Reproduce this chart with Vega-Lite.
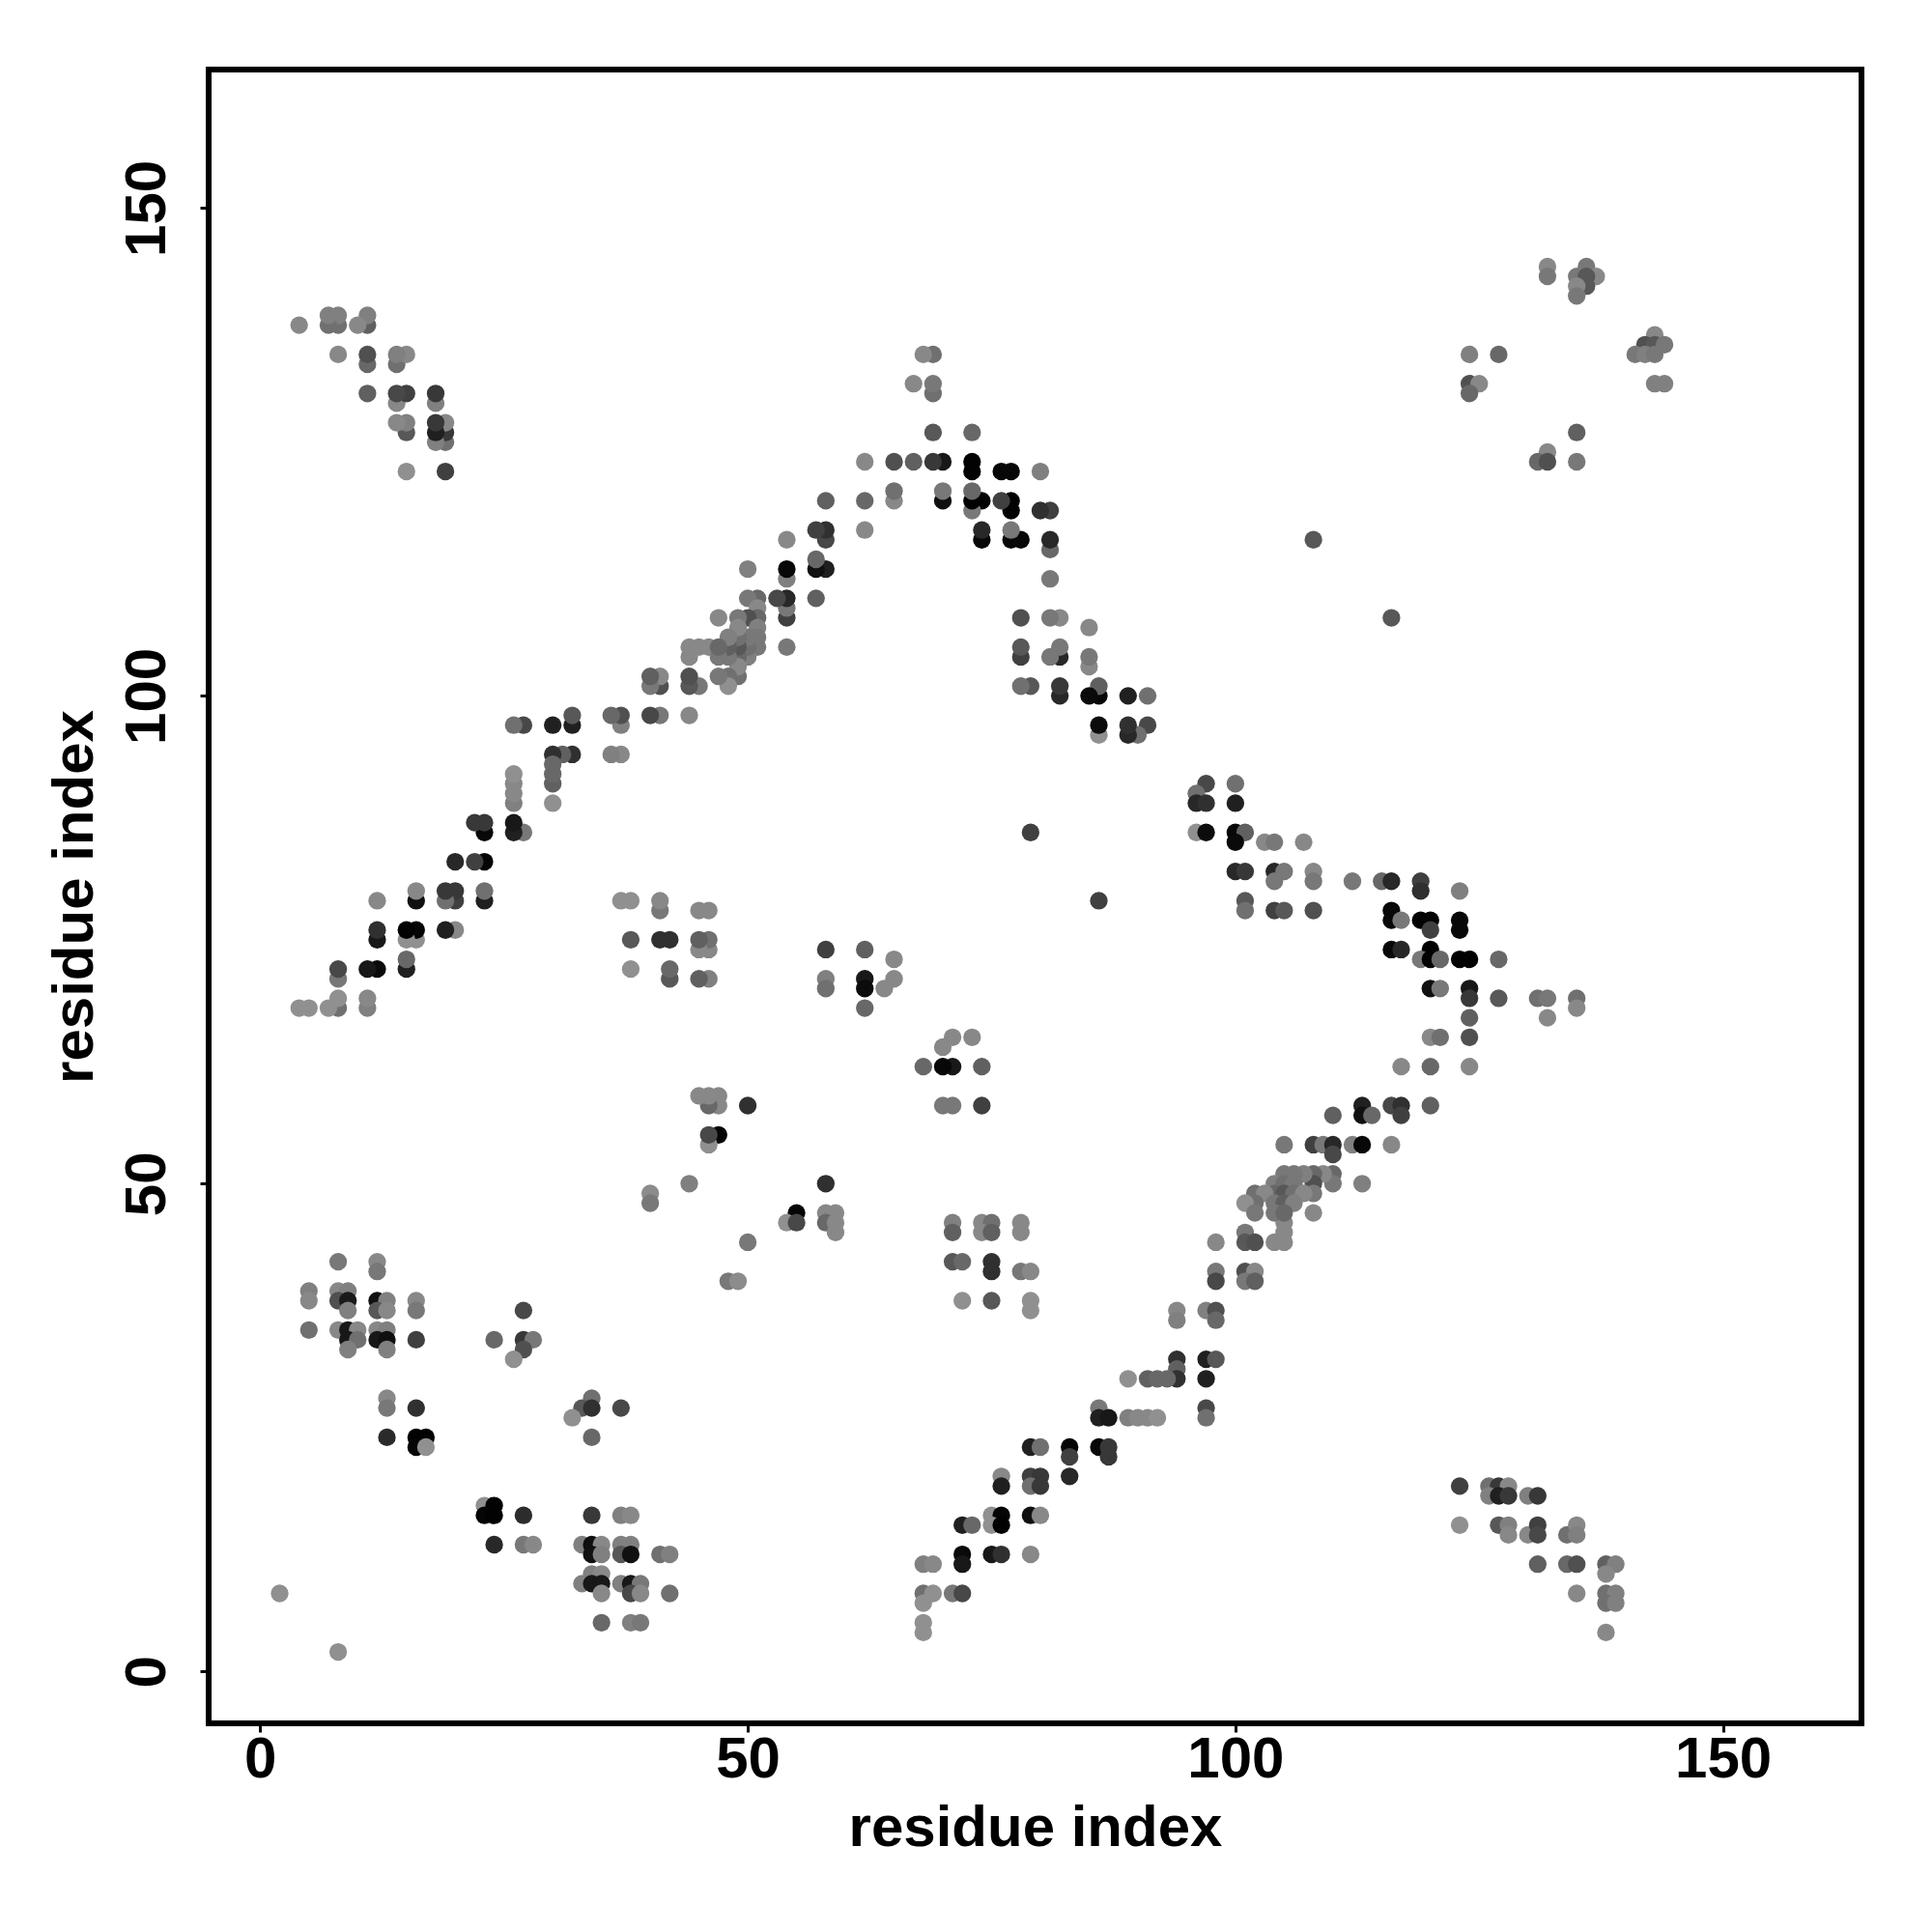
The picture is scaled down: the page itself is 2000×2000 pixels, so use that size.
{"$schema":"https://vega.github.io/schema/vega-lite/v6.json","width":1711,"height":1712,"autosize":{"type":"none"},"padding":{"left":216,"top":72,"right":73,"bottom":216},"background":"white","view":{"stroke":"black","strokeWidth":6},
"data":{"values":[
{"x":44,"y":50,"g":128},{"x":40,"y":49,"g":140},{"x":40,"y":48,"g":120},{"x":50,"y":44,"g":120},{"x":48,"y":40,"g":120},{"x":49,"y":40,"g":140},{"x":8,"y":42,"g":120},{"x":12,"y":42,"g":136},{"x":12,"y":41,"g":120},{"x":5,"y":39,"g":128},{"x":5,"y":38,"g":136},{"x":8,"y":39,"g":136},{"x":9,"y":39,"g":128},{"x":8,"y":38,"g":80},{"x":9,"y":38,"g":26},{"x":9,"y":37,"g":128},{"x":12,"y":38,"g":16},{"x":13,"y":38,"g":128},{"x":12,"y":37,"g":88},{"x":13,"y":37,"g":136},{"x":16,"y":38,"g":136},{"x":16,"y":37,"g":120},{"x":5,"y":35,"g":112},{"x":8,"y":35,"g":136},{"x":9,"y":35,"g":24},{"x":10,"y":35,"g":136},{"x":9,"y":34,"g":24},{"x":10,"y":34,"g":112},{"x":9,"y":33,"g":128},{"x":12,"y":35,"g":136},{"x":13,"y":35,"g":128},{"x":12,"y":34,"g":24},{"x":13,"y":34,"g":16},{"x":13,"y":33,"g":128},{"x":16,"y":34,"g":64},{"x":24,"y":34,"g":104},{"x":27,"y":37,"g":72},{"x":27,"y":34,"g":56},{"x":28,"y":34,"g":120},{"x":27,"y":33,"g":80},{"x":26,"y":32,"g":144},{"x":13,"y":28,"g":136},{"x":13,"y":27,"g":120},{"x":16,"y":27,"g":48},{"x":13,"y":24,"g":42},{"x":16,"y":24,"g":2},{"x":17,"y":24,"g":2},{"x":16,"y":23,"g":5},{"x":17,"y":23,"g":144},{"x":34,"y":28,"g":112},{"x":33,"y":27,"g":88},{"x":34,"y":27,"g":48},{"x":37,"y":27,"g":72},{"x":32,"y":26,"g":144},{"x":34,"y":24,"g":104},{"x":23,"y":17,"g":144},{"x":24,"y":17,"g":2},{"x":23,"y":16,"g":5},{"x":24,"y":16,"g":2},{"x":27,"y":16,"g":44},{"x":24,"y":13,"g":40},{"x":27,"y":13,"g":120},{"x":28,"y":13,"g":136},{"x":34,"y":16,"g":56},{"x":37,"y":16,"g":128},{"x":38,"y":16,"g":136},{"x":33,"y":13,"g":128},{"x":34,"y":13,"g":16},{"x":35,"y":13,"g":136},{"x":34,"y":12,"g":18},{"x":35,"y":12,"g":128},{"x":37,"y":13,"g":128},{"x":38,"y":13,"g":128},{"x":37,"y":12,"g":88},{"x":38,"y":12,"g":16},{"x":41,"y":12,"g":112},{"x":42,"y":12,"g":128},{"x":34,"y":10,"g":128},{"x":35,"y":10,"g":136},{"x":33,"y":9,"g":128},{"x":34,"y":9,"g":24},{"x":35,"y":9,"g":24},{"x":35,"y":8,"g":136},{"x":37,"y":9,"g":128},{"x":38,"y":9,"g":24},{"x":39,"y":9,"g":120},{"x":38,"y":8,"g":72},{"x":39,"y":8,"g":136},{"x":42,"y":8,"g":112},{"x":35,"y":5,"g":104},{"x":38,"y":5,"g":128},{"x":39,"y":5,"g":120},{"x":2,"y":8,"g":144},{"x":8,"y":2,"g":144},
{"x":132,"y":144,"g":136},{"x":132,"y":143,"g":120},{"x":136,"y":144,"g":120},{"x":135,"y":143,"g":120},{"x":137,"y":143,"g":136},{"x":136,"y":143,"g":88},{"x":136,"y":142,"g":88},{"x":135,"y":142,"g":136},{"x":135,"y":141,"g":120},{"x":124,"y":135,"g":128},{"x":127,"y":135,"g":104},{"x":124,"y":132,"g":80},{"x":125,"y":132,"g":136},{"x":124,"y":131,"g":104},{"x":135,"y":127,"g":96},{"x":132,"y":125,"g":136},{"x":131,"y":124,"g":104},{"x":132,"y":124,"g":80},{"x":135,"y":124,"g":120},{"x":143,"y":137,"g":136},{"x":142,"y":136,"g":80},{"x":143,"y":136,"g":88},{"x":144,"y":136,"g":120},{"x":141,"y":135,"g":120},{"x":142,"y":135,"g":128},{"x":143,"y":135,"g":120},{"x":143,"y":132,"g":128},{"x":144,"y":132,"g":128},
{"x":108,"y":116,"g":88},{"x":116,"y":108,"g":88},{"x":79,"y":86,"g":64},{"x":86,"y":79,"g":64},
{"x":74,"y":58,"g":64},{"x":58,"y":74,"g":64},{"x":74,"y":62,"g":96},{"x":62,"y":74,"g":96},{"x":73,"y":65,"g":136},{"x":65,"y":73,"g":136},{"x":71,"y":58,"g":120},{"x":58,"y":71,"g":128},{"x":70,"y":58,"g":120},{"x":58,"y":70,"g":112},{"x":71,"y":62,"g":24},{"x":62,"y":71,"g":24},{"x":70,"y":62,"g":8},{"x":62,"y":70,"g":12},{"x":71,"y":65,"g":136},{"x":65,"y":71,"g":136},{"x":70,"y":64,"g":136},{"x":64,"y":70,"g":136},{"x":68,"y":62,"g":104},{"x":62,"y":68,"g":104},
{"x":58,"y":50,"g":48},{"x":50,"y":58,"g":48},{"x":55,"y":47,"g":5},{"x":47,"y":55,"g":5},{"x":54,"y":46,"g":144},{"x":46,"y":54,"g":144},{"x":55,"y":46,"g":72},{"x":46,"y":55,"g":72},{"x":58,"y":47,"g":136},{"x":47,"y":58,"g":136},{"x":59,"y":47,"g":136},{"x":47,"y":59,"g":136},{"x":58,"y":46,"g":104},{"x":46,"y":58,"g":104},{"x":59,"y":46,"g":136},{"x":46,"y":59,"g":136},{"x":59,"y":45,"g":136},{"x":45,"y":59,"g":136},{"x":71,"y":46,"g":128},{"x":46,"y":71,"g":128},{"x":71,"y":45,"g":96},{"x":45,"y":71,"g":96},{"x":74,"y":46,"g":136},{"x":46,"y":74,"g":136},{"x":75,"y":46,"g":112},{"x":46,"y":75,"g":112},{"x":74,"y":45,"g":136},{"x":45,"y":74,"g":136},{"x":75,"y":45,"g":96},{"x":45,"y":75,"g":96},{"x":78,"y":46,"g":136},{"x":46,"y":78,"g":136},{"x":78,"y":45,"g":136},{"x":45,"y":78,"g":136},{"x":71,"y":42,"g":88},{"x":42,"y":71,"g":88},{"x":72,"y":42,"g":104},{"x":42,"y":72,"g":104},{"x":75,"y":42,"g":48},{"x":42,"y":75,"g":48},{"x":75,"y":41,"g":48},{"x":41,"y":75,"g":48},{"x":78,"y":41,"g":120},{"x":41,"y":78,"g":120},{"x":79,"y":41,"g":136},{"x":41,"y":79,"g":136},{"x":72,"y":38,"g":144},{"x":38,"y":72,"g":144},{"x":75,"y":38,"g":88},{"x":38,"y":75,"g":88},{"x":79,"y":38,"g":144},{"x":38,"y":79,"g":144},{"x":79,"y":37,"g":144},{"x":37,"y":79,"g":144},{"x":94,"y":37,"g":136},{"x":37,"y":94,"g":136},{"x":94,"y":36,"g":128},{"x":36,"y":94,"g":128},{"x":97,"y":37,"g":128},{"x":37,"y":97,"g":128},{"x":98,"y":37,"g":80},{"x":37,"y":98,"g":80},{"x":98,"y":36,"g":104},{"x":36,"y":98,"g":104},{"x":98,"y":41,"g":120},{"x":41,"y":98,"g":120},{"x":98,"y":40,"g":72},{"x":40,"y":98,"g":72},{"x":101,"y":41,"g":80},{"x":41,"y":101,"g":80},{"x":102,"y":41,"g":136},{"x":41,"y":102,"g":136},{"x":101,"y":40,"g":120},{"x":40,"y":101,"g":120},{"x":102,"y":40,"g":96},{"x":40,"y":102,"g":96},{"x":98,"y":44,"g":136},{"x":44,"y":98,"g":136},{"x":101,"y":45,"g":120},{"x":45,"y":101,"g":120},{"x":101,"y":44,"g":88},{"x":44,"y":101,"g":88},{"x":102,"y":44,"g":80},{"x":44,"y":102,"g":80},{"x":104,"y":44,"g":136},{"x":44,"y":104,"g":136},{"x":105,"y":44,"g":136},{"x":44,"y":105,"g":136},{"x":105,"y":45,"g":136},{"x":45,"y":105,"g":136},{"x":105,"y":46,"g":136},{"x":46,"y":105,"g":136},
{"x":94,"y":32,"g":48},{"x":32,"y":94,"g":48},{"x":94,"y":31,"g":96},{"x":31,"y":94,"g":96},{"x":94,"y":30,"g":48},{"x":30,"y":94,"g":48},{"x":89,"y":30,"g":144},{"x":30,"y":89,"g":144},{"x":91,"y":30,"g":96},{"x":30,"y":91,"g":96},{"x":92,"y":30,"g":104},{"x":30,"y":92,"g":104},{"x":93,"y":30,"g":104},{"x":30,"y":93,"g":104},{"x":97,"y":32,"g":32},{"x":32,"y":97,"g":32},{"x":98,"y":32,"g":88},{"x":32,"y":98,"g":88},{"x":97,"y":30,"g":32},{"x":30,"y":97,"g":32},{"x":97,"y":27,"g":72},{"x":27,"y":97,"g":72},{"x":97,"y":26,"g":112},{"x":26,"y":97,"g":112},{"x":86,"y":27,"g":120},{"x":27,"y":86,"g":120},{"x":86,"y":26,"g":32},{"x":26,"y":86,"g":32},{"x":87,"y":26,"g":24},{"x":26,"y":87,"g":24},{"x":89,"y":26,"g":128},{"x":26,"y":89,"g":128},{"x":90,"y":26,"g":136},{"x":26,"y":90,"g":136},{"x":91,"y":26,"g":136},{"x":26,"y":91,"g":136},{"x":92,"y":26,"g":144},{"x":26,"y":92,"g":144},{"x":79,"y":23,"g":32},{"x":23,"y":79,"g":32},{"x":80,"y":23,"g":112},{"x":23,"y":80,"g":112},{"x":83,"y":23,"g":5},{"x":23,"y":83,"g":5},{"x":83,"y":22,"g":64},{"x":22,"y":83,"g":64},{"x":86,"y":23,"g":8},{"x":23,"y":86,"g":8},{"x":87,"y":23,"g":56},{"x":23,"y":87,"g":56},{"x":87,"y":22,"g":56},{"x":22,"y":87,"g":56},{"x":76,"y":20,"g":136},{"x":20,"y":76,"g":136},{"x":76,"y":19,"g":32},{"x":19,"y":76,"g":32},{"x":79,"y":20,"g":64},{"x":20,"y":79,"g":64},{"x":80,"y":20,"g":56},{"x":20,"y":80,"g":56},{"x":79,"y":19,"g":112},{"x":19,"y":79,"g":112},{"x":80,"y":19,"g":56},{"x":19,"y":80,"g":56},{"x":83,"y":20,"g":40},{"x":20,"y":83,"g":40},{"x":75,"y":16,"g":144},{"x":16,"y":75,"g":144},{"x":76,"y":16,"g":5},{"x":16,"y":76,"g":5},{"x":75,"y":15,"g":144},{"x":15,"y":75,"g":144},{"x":76,"y":15,"g":2},{"x":15,"y":76,"g":2},{"x":79,"y":16,"g":16},{"x":16,"y":79,"g":16},{"x":80,"y":16,"g":136},{"x":16,"y":80,"g":136},{"x":72,"y":15,"g":32},{"x":15,"y":72,"g":32},{"x":73,"y":15,"g":104},{"x":15,"y":73,"g":104},{"x":72,"y":12,"g":10},{"x":12,"y":72,"g":10},{"x":72,"y":11,"g":24},{"x":11,"y":72,"g":24},{"x":75,"y":12,"g":24},{"x":12,"y":75,"g":24},{"x":76,"y":12,"g":48},{"x":12,"y":76,"g":48},{"x":79,"y":12,"g":136},{"x":12,"y":79,"g":136},{"x":68,"y":11,"g":128},{"x":11,"y":68,"g":128},{"x":69,"y":11,"g":136},{"x":11,"y":69,"g":136},{"x":68,"y":8,"g":112},{"x":8,"y":68,"g":112},{"x":69,"y":8,"g":144},{"x":8,"y":69,"g":144},{"x":68,"y":7,"g":144},{"x":7,"y":68,"g":144},{"x":71,"y":8,"g":120},{"x":8,"y":71,"g":120},{"x":72,"y":8,"g":72},{"x":8,"y":72,"g":72},{"x":68,"y":5,"g":144},{"x":5,"y":68,"g":144},{"x":68,"y":4,"g":144},{"x":4,"y":68,"g":144},
{"x":123,"y":19,"g":64},{"x":19,"y":123,"g":64},{"x":123,"y":15,"g":144},{"x":15,"y":123,"g":144},{"x":126,"y":19,"g":112},{"x":19,"y":126,"g":112},{"x":127,"y":19,"g":56},{"x":19,"y":127,"g":56},{"x":128,"y":19,"g":136},{"x":19,"y":128,"g":136},{"x":126,"y":18,"g":128},{"x":18,"y":126,"g":128},{"x":127,"y":18,"g":32},{"x":18,"y":127,"g":32},{"x":128,"y":18,"g":56},{"x":18,"y":128,"g":56},{"x":130,"y":18,"g":128},{"x":18,"y":130,"g":128},{"x":131,"y":18,"g":56},{"x":18,"y":131,"g":56},{"x":127,"y":15,"g":88},{"x":15,"y":127,"g":88},{"x":128,"y":15,"g":128},{"x":15,"y":128,"g":128},{"x":128,"y":14,"g":136},{"x":14,"y":128,"g":136},{"x":130,"y":14,"g":136},{"x":14,"y":130,"g":136},{"x":131,"y":15,"g":64},{"x":15,"y":131,"g":64},{"x":131,"y":14,"g":72},{"x":14,"y":131,"g":72},{"x":134,"y":14,"g":112},{"x":14,"y":134,"g":112},{"x":135,"y":15,"g":136},{"x":15,"y":135,"g":136},{"x":135,"y":14,"g":128},{"x":14,"y":135,"g":128},{"x":131,"y":11,"g":96},{"x":11,"y":131,"g":96},{"x":134,"y":11,"g":104},{"x":11,"y":134,"g":104},{"x":135,"y":11,"g":80},{"x":11,"y":135,"g":80},{"x":138,"y":11,"g":96},{"x":11,"y":138,"g":96},{"x":139,"y":11,"g":128},{"x":11,"y":139,"g":128},{"x":138,"y":10,"g":136},{"x":10,"y":138,"g":136},{"x":135,"y":8,"g":136},{"x":8,"y":135,"g":136},{"x":138,"y":8,"g":112},{"x":8,"y":138,"g":112},{"x":139,"y":8,"g":128},{"x":8,"y":139,"g":128},{"x":138,"y":7,"g":112},{"x":7,"y":138,"g":112},{"x":139,"y":7,"g":128},{"x":7,"y":139,"g":128},{"x":138,"y":4,"g":136},{"x":4,"y":138,"g":136},
{"x":113,"y":50,"g":128},{"x":50,"y":113,"g":128},{"x":110,"y":51,"g":104},{"x":51,"y":110,"g":104},{"x":110,"y":50,"g":120},{"x":50,"y":110,"g":120},{"x":109,"y":51,"g":136},{"x":51,"y":109,"g":136},{"x":108,"y":51,"g":104},{"x":51,"y":108,"g":104},{"x":108,"y":50,"g":80},{"x":50,"y":108,"g":80},{"x":108,"y":49,"g":120},{"x":49,"y":108,"g":120},{"x":108,"y":47,"g":136},{"x":47,"y":108,"g":136},{"x":107,"y":51,"g":128},{"x":51,"y":107,"g":128},{"x":106,"y":51,"g":120},{"x":51,"y":106,"g":120},{"x":105,"y":51,"g":120},{"x":51,"y":105,"g":120},{"x":104,"y":50,"g":128},{"x":50,"y":104,"g":128},{"x":105,"y":50,"g":112},{"x":50,"y":105,"g":112},{"x":106,"y":50,"g":120},{"x":50,"y":106,"g":120},{"x":104,"y":49,"g":104},{"x":49,"y":104,"g":104},{"x":105,"y":49,"g":88},{"x":49,"y":105,"g":88},{"x":106,"y":49,"g":112},{"x":49,"y":106,"g":112},{"x":107,"y":49,"g":136},{"x":49,"y":107,"g":136},{"x":102,"y":49,"g":112},{"x":49,"y":102,"g":112},{"x":103,"y":49,"g":136},{"x":49,"y":103,"g":136},{"x":104,"y":48,"g":120},{"x":48,"y":104,"g":120},{"x":105,"y":48,"g":96},{"x":48,"y":105,"g":96},{"x":106,"y":48,"g":128},{"x":48,"y":106,"g":128},{"x":102,"y":48,"g":112},{"x":48,"y":102,"g":112},{"x":101,"y":48,"g":144},{"x":48,"y":101,"g":144},{"x":102,"y":47,"g":120},{"x":47,"y":102,"g":120},{"x":104,"y":47,"g":120},{"x":47,"y":104,"g":120},{"x":105,"y":47,"g":104},{"x":47,"y":105,"g":104},
{"x":97,"y":91,"g":72},{"x":91,"y":97,"g":72},{"x":100,"y":91,"g":112},{"x":91,"y":100,"g":112},{"x":96,"y":90,"g":112},{"x":90,"y":96,"g":112},{"x":96,"y":89,"g":40},{"x":89,"y":96,"g":40},{"x":97,"y":89,"g":48},{"x":89,"y":97,"g":48},{"x":100,"y":89,"g":32},{"x":89,"y":100,"g":32},{"x":96,"y":86,"g":144},{"x":86,"y":96,"g":144},{"x":97,"y":86,"g":12},{"x":86,"y":97,"g":12},{"x":100,"y":86,"g":8},{"x":86,"y":100,"g":8},{"x":101,"y":86,"g":96},{"x":86,"y":101,"g":96},{"x":100,"y":85,"g":10},{"x":85,"y":100,"g":10},{"x":103,"y":85,"g":136},{"x":85,"y":103,"g":136},{"x":104,"y":85,"g":120},{"x":85,"y":104,"g":120},{"x":107,"y":85,"g":136},{"x":85,"y":107,"g":136},{"x":100,"y":82,"g":40},{"x":82,"y":100,"g":40},{"x":101,"y":82,"g":56},{"x":82,"y":101,"g":56},{"x":104,"y":82,"g":40},{"x":82,"y":104,"g":40},{"x":105,"y":82,"g":120},{"x":82,"y":105,"g":120},{"x":108,"y":82,"g":136},{"x":82,"y":108,"g":136},{"x":104,"y":81,"g":120},{"x":81,"y":104,"g":120},{"x":108,"y":81,"g":120},{"x":81,"y":108,"g":120},{"x":112,"y":81,"g":120},{"x":81,"y":112,"g":120},{"x":115,"y":81,"g":104},{"x":81,"y":115,"g":104},{"x":116,"y":81,"g":40},{"x":81,"y":116,"g":40},{"x":119,"y":81,"g":64},{"x":81,"y":119,"g":64},{"x":119,"y":80,"g":48},{"x":80,"y":119,"g":48},{"x":123,"y":80,"g":128},{"x":80,"y":123,"g":128},{"x":101,"y":79,"g":88},{"x":79,"y":101,"g":88},{"x":101,"y":78,"g":112},{"x":78,"y":101,"g":112},{"x":104,"y":78,"g":64},{"x":78,"y":104,"g":64},{"x":105,"y":78,"g":88},{"x":78,"y":105,"g":88},{"x":108,"y":78,"g":80},{"x":78,"y":108,"g":80},{"x":116,"y":78,"g":8},{"x":78,"y":116,"g":8},{"x":116,"y":77,"g":8},{"x":77,"y":116,"g":8},{"x":117,"y":77,"g":120},{"x":77,"y":117,"g":120},{"x":119,"y":77,"g":2},{"x":77,"y":119,"g":2},{"x":120,"y":77,"g":2},{"x":77,"y":120,"g":2},{"x":120,"y":76,"g":64},{"x":76,"y":120,"g":64},{"x":123,"y":77,"g":8},{"x":77,"y":123,"g":8},{"x":123,"y":76,"g":8},{"x":76,"y":123,"g":8},{"x":116,"y":74,"g":8},{"x":74,"y":116,"g":8},{"x":117,"y":74,"g":40},{"x":74,"y":117,"g":40},{"x":120,"y":74,"g":2},{"x":74,"y":120,"g":2},{"x":119,"y":73,"g":120},{"x":73,"y":119,"g":120},{"x":120,"y":73,"g":2},{"x":73,"y":120,"g":2},{"x":121,"y":73,"g":104},{"x":73,"y":121,"g":104},{"x":123,"y":73,"g":2},{"x":73,"y":123,"g":2},{"x":124,"y":73,"g":2},{"x":73,"y":124,"g":2},{"x":127,"y":73,"g":104},{"x":73,"y":127,"g":104},{"x":120,"y":70,"g":16},{"x":70,"y":120,"g":16},{"x":121,"y":70,"g":120},{"x":70,"y":121,"g":120},{"x":124,"y":70,"g":24},{"x":70,"y":124,"g":24},{"x":124,"y":69,"g":56},{"x":69,"y":124,"g":56},{"x":127,"y":69,"g":88},{"x":69,"y":127,"g":88},{"x":131,"y":69,"g":112},{"x":69,"y":131,"g":112},{"x":132,"y":69,"g":120},{"x":69,"y":132,"g":120},{"x":135,"y":69,"g":112},{"x":69,"y":135,"g":112},{"x":135,"y":68,"g":136},{"x":68,"y":135,"g":136},{"x":132,"y":67,"g":136},{"x":67,"y":132,"g":136},{"x":124,"y":67,"g":96},{"x":67,"y":124,"g":96},{"x":120,"y":65,"g":136},{"x":65,"y":120,"g":136},{"x":121,"y":65,"g":112},{"x":65,"y":121,"g":112},{"x":124,"y":65,"g":80},{"x":65,"y":124,"g":80},{"x":117,"y":62,"g":136},{"x":62,"y":117,"g":136},{"x":120,"y":62,"g":104},{"x":62,"y":120,"g":104},{"x":124,"y":62,"g":136},{"x":62,"y":124,"g":136},{"x":113,"y":58,"g":32},{"x":58,"y":113,"g":32},{"x":116,"y":58,"g":72},{"x":58,"y":116,"g":72},{"x":117,"y":58,"g":48},{"x":58,"y":117,"g":48},{"x":120,"y":58,"g":96},{"x":58,"y":120,"g":96},{"x":113,"y":57,"g":16},{"x":57,"y":113,"g":16},{"x":114,"y":57,"g":104},{"x":57,"y":114,"g":104},{"x":117,"y":57,"g":64},{"x":57,"y":117,"g":64},{"x":110,"y":57,"g":96},{"x":57,"y":110,"g":96},{"x":105,"y":54,"g":120},{"x":54,"y":105,"g":120},{"x":108,"y":54,"g":64},{"x":54,"y":108,"g":64},{"x":109,"y":54,"g":120},{"x":54,"y":109,"g":120},{"x":110,"y":54,"g":40},{"x":54,"y":110,"g":40},{"x":110,"y":53,"g":72},{"x":53,"y":110,"g":72},{"x":112,"y":54,"g":128},{"x":54,"y":112,"g":128},{"x":113,"y":54,"g":8},{"x":54,"y":113,"g":8},{"x":116,"y":54,"g":136},{"x":54,"y":116,"g":136}
]},
"mark":{"type":"circle","size":335,"opacity":1},
"encoding":{
"x":{"field":"x","type":"quantitative","scale":{"domain":[-5.28,164.2],"nice":false,"zero":false},"axis":{"title":"residue index","values":[0,50,100,150],"grid":false,"domain":false,"tickSize":9,"tickWidth":3,"tickColor":"black","labelFont":"Liberation Sans","labelFontWeight":"bold","labelFontSize":60,"labelColor":"black","labelBaseline":"alphabetic","labelPadding":46,"labelFlush":false,"labelOverlap":false,"titleFont":"Liberation Sans","titleFontWeight":"bold","titleFontSize":60,"titleColor":"black","titleBaseline":"alphabetic","titleY":126}},
"y":{"field":"y","type":"quantitative","scale":{"domain":[-5.32,164.2],"nice":false,"zero":false},"axis":{"title":"residue index","values":[0,50,100,150],"grid":false,"domain":false,"tickSize":9,"tickWidth":3,"tickColor":"black","labelFont":"Liberation Sans","labelFontWeight":"bold","labelFontSize":60,"labelColor":"black","labelAngle":-90,"labelAlign":"center","labelBaseline":"alphabetic","labelPadding":37,"labelFlush":false,"labelOverlap":false,"titleFont":"Liberation Sans","titleFontWeight":"bold","titleFontSize":60,"titleColor":"black","titleBaseline":"alphabetic","titleAngle":-90,"titleX":-121,"titleY":856}},
"color":{"field":"g","type":"quantitative","scale":{"domain":[0,255],"range":["#000000","#ffffff"],"interpolate":"rgb"},"legend":null},
"order":[{"field":"x"},{"field":"y"}]
}}
